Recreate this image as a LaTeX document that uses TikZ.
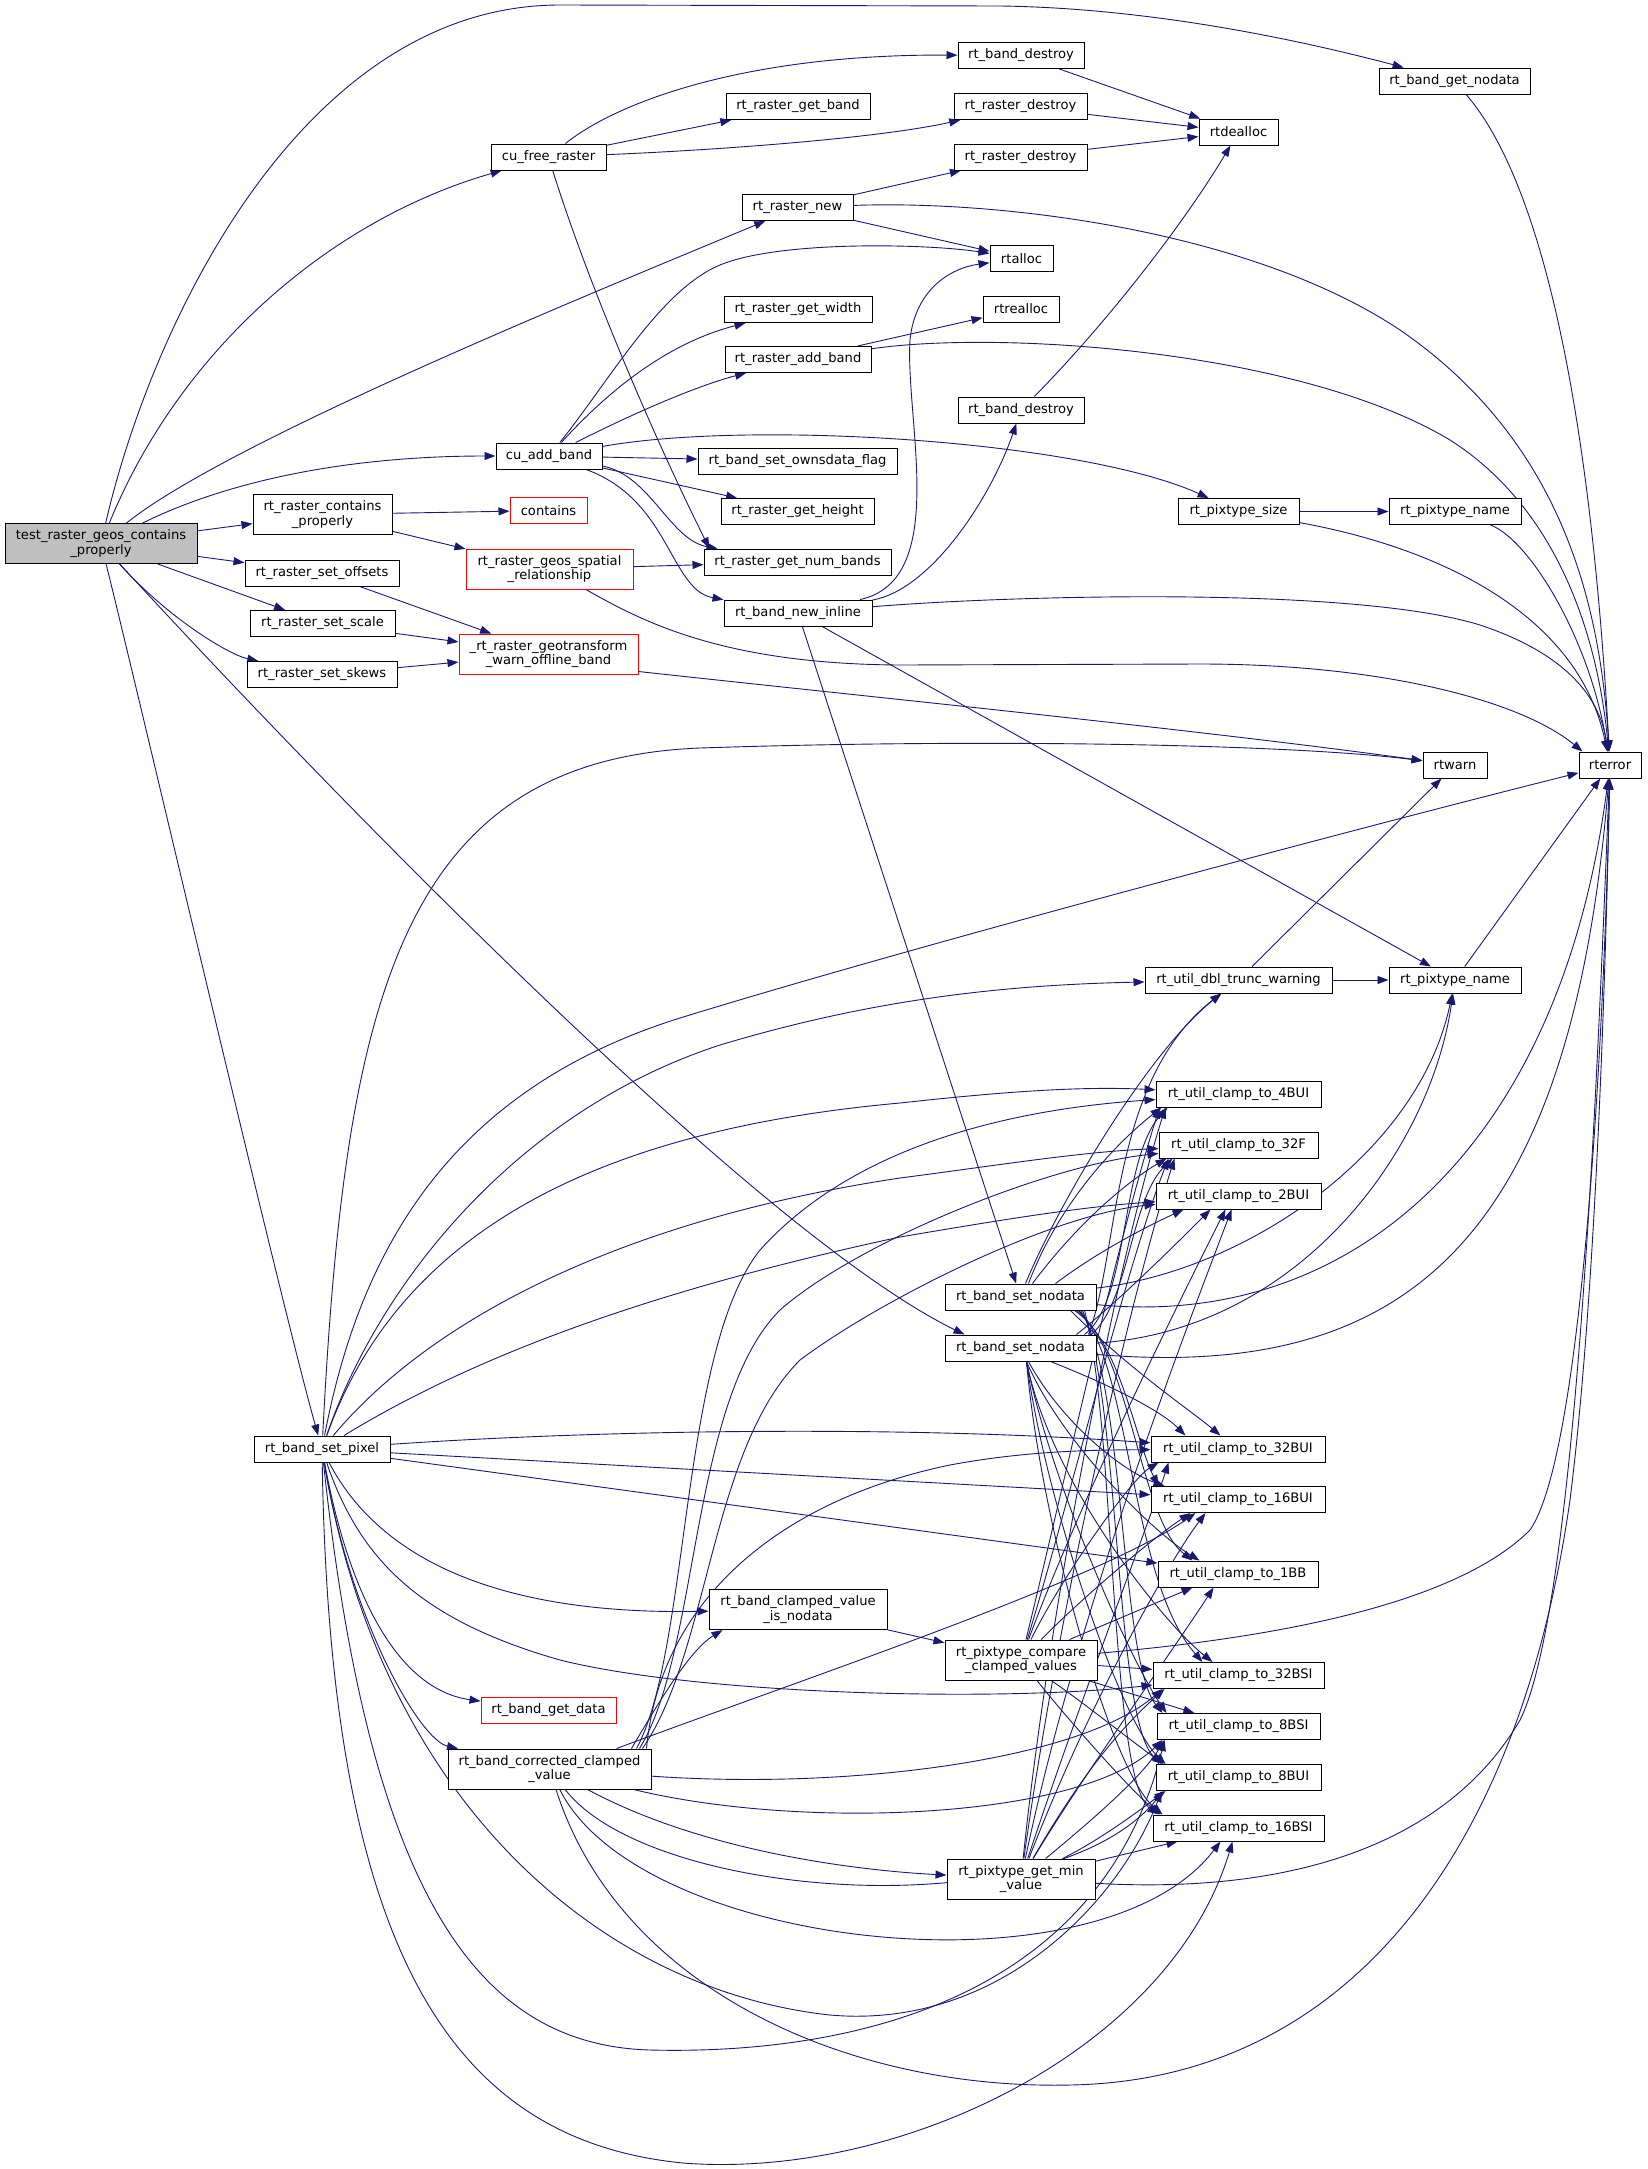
\documentclass[tikz,border=0pt]{standalone}
\usepackage{fontspec}
\setmainfont{DejaVu Sans}
\usetikzlibrary{arrows.meta}
\definecolor{edgec}{RGB}{25,25,112}
\definecolor{rootfill}{RGB}{191,191,191}
\newcommand\nodefont{\fontsize{13.1}{14.5}\selectfont}
\pgfdeclarelayer{edges}
\pgfsetlayers{edges,main}
\tikzset{
  box/.style={draw=black, fill=white, line width=1pt, inner sep=0pt, align=center, font=\nodefont, minimum height=26},
  redbox/.style={box, draw=red},
  rootbox/.style={box, fill=rootfill},
  two/.style={minimum height=40},
  e/.style={draw=edgec, line width=0.9pt, -{Triangle[length=11pt,width=8pt]}},
}
\begin{document}
\begin{tikzpicture}[x=1pt,y=-1pt]
\useasboundingbox (0,0) rectangle (1647,2169);
% ---------- nodes ----------
\node[rootbox, two, minimum width=192] (T) at (101,543.5) {test\_raster\_geos\_contains\\\_properly};
\node[box, minimum width=115] (CF) at (548.5,157) {cu\_free\_raster};
\node[box, minimum width=106] (CA) at (549,456) {cu\_add\_band};
\node[box, two, minimum width=139] (RCP) at (322.5,514.5) {rt\_raster\_contains\\\_properly};
\node[redbox, minimum width=77] (CONT) at (548.5,510.5) {contains};
\node[redbox, two, minimum width=167] (GSR) at (549.5,569) {rt\_raster\_geos\_spatial\\\_relationship};
\node[box, minimum width=154] (RSO) at (322,573) {rt\_raster\_set\_offsets};
\node[box, minimum width=145] (RSS) at (322.5,623.5) {rt\_raster\_set\_scale};
\node[box, minimum width=150] (RSK) at (322,674.5) {rt\_raster\_set\_skews};
\node[redbox, two, minimum width=179] (GEO) at (548.5,654) {\_rt\_raster\_geotransform\\\_warn\_offline\_band};
\node[box, minimum width=144] (RGB) at (798,106.5) {rt\_raster\_get\_band};
\node[box, minimum width=111] (RN) at (797.5,207.5) {rt\_raster\_new};
\node[box, minimum width=148] (RGW) at (798,309.5) {rt\_raster\_get\_width};
\node[box, minimum width=146] (RAB) at (798,359.5) {rt\_raster\_add\_band};
\node[box, minimum width=199] (OWN) at (797.5,461) {rt\_band\_set\_ownsdata\_flag};
\node[box, minimum width=153] (RGH) at (797.5,511.5) {rt\_raster\_get\_height};
\node[box, minimum width=187] (NUMB) at (797.5,562) {rt\_raster\_get\_num\_bands};
\node[box, minimum width=148] (BNI) at (798,613) {rt\_band\_new\_inline};
\node[box, minimum width=126] (BD1) at (1021,55.5) {rt\_band\_destroy};
\node[box, minimum width=133] (RD1) at (1020.5,106.5) {rt\_raster\_destroy};
\node[box, minimum width=133] (RD2) at (1020.5,157) {rt\_raster\_destroy};
\node[box, minimum width=63] (ALLOC) at (1021.5,258.5) {rtalloc};
\node[box, minimum width=76] (REALLOC) at (1021,309) {rtrealloc};
\node[box, minimum width=126] (BD2) at (1021,410) {rt\_band\_destroy};
\node[box, minimum width=79] (DEALLOC) at (1238.5,132) {rtdealloc};
\node[box, minimum width=121] (PSIZE) at (1238.5,511.5) {rt\_pixtype\_size};
\node[box, minimum width=151] (GNODATA) at (1454.5,81) {rt\_band\_get\_nodata};
\node[box, minimum width=132] (PNAME1) at (1455,511.5) {rt\_pixtype\_name};
\node[box, minimum width=64] (RTWARN) at (1455,765) {rtwarn};
\node[box, minimum width=62] (RTERROR) at (1610,765) {rterror};
\node[box, minimum width=187] (DTW) at (1238.5,980) {rt\_util\_dbl\_trunc\_warning};
\node[box, minimum width=132] (PNAME2) at (1455,980) {rt\_pixtype\_name};
\node[box, minimum width=165] (c4) at (1238.5,1094) {rt\_util\_clamp\_to\_4BUI};
\node[box, minimum width=159] (c32f) at (1238.5,1145) {rt\_util\_clamp\_to\_32F};
\node[box, minimum width=165] (c2) at (1238.5,1196) {rt\_util\_clamp\_to\_2BUI};
\node[box, minimum width=151] (SN1) at (1020.5,1297) {rt\_band\_set\_nodata};
\node[box, minimum width=151] (SN2) at (1020.5,1348) {rt\_band\_set\_nodata};
\node[box, minimum width=174] (c32u) at (1238,1449) {rt\_util\_clamp\_to\_32BUI};
\node[box, minimum width=174] (c16u) at (1238,1499.5) {rt\_util\_clamp\_to\_16BUI};
\node[box, minimum width=160] (c1) at (1238,1574) {rt\_util\_clamp\_to\_1BB};
\node[box, minimum width=171] (c32s) at (1238.5,1675.5) {rt\_util\_clamp\_to\_32BSI};
\node[box, minimum width=163] (c8s) at (1238.5,1726.5) {rt\_util\_clamp\_to\_8BSI};
\node[box, minimum width=165] (c8u) at (1238.5,1777.5) {rt\_util\_clamp\_to\_8BUI};
\node[box, minimum width=171] (c16s) at (1238.5,1828) {rt\_util\_clamp\_to\_16BSI};
\node[box, minimum width=136] (BSP) at (322,1449) {rt\_band\_set\_pixel};
\node[box, two, minimum width=178] (ISND) at (798,1609.5) {rt\_band\_clamped\_value\\\_is\_nodata};
\node[box, two, minimum width=152] (PCC) at (1021,1660) {rt\_pixtype\_compare\\\_clamped\_values};
\node[redbox, minimum width=135] (GETDATA) at (548.5,1710.5) {rt\_band\_get\_data};
\node[box, two, minimum width=203] (CCV) at (549.5,1769) {rt\_band\_corrected\_clamped\\\_value};
\node[box, two, minimum width=148] (PGM) at (1021,1879) {rt\_pixtype\_get\_min\\\_value};
% ---------- edges ----------
\begin{pgfonlayer}{edges}
% test_raster_geos_contains_properly
\draw[e] (T) .. controls (150,330) and (300,5) .. (560,5) -- (1000,6) .. controls (1150,8) and (1300,40) .. (GNODATA);
\draw[e] (T) .. controls (180,350) and (330,220) .. (CF);
\draw[e] (T) .. controls (230,440) and (600,290) .. (RN);
\draw[e] (T) .. controls (230,480) and (350,456) .. (CA);
\draw[e] (T) -- (RCP);
\draw[e] (T) -- (RSO);
\draw[e] (T) -- (RSS);
\draw[e] (T) .. controls (170,620) and (230,655) .. (RSK);
\draw[e] (T) .. controls (300,760) and (750,1230) .. ([xshift=20]SN2.north west);
\draw[e] (T) .. controls (140,700) and (280,1300) .. (BSP);
% cu_free_raster
\draw[e] (CF) .. controls (620,100) and (750,54) .. (BD1);
\draw[e] (CF) -- (RGB);
\draw[e] (CF) .. controls (720,150) and (880,138) .. (RD1);
\draw[e] (CF) .. controls (590,290) and (660,450) .. ([xshift=6]NUMB.north west);
% rt_raster_new
\draw[e] (RN) -- (RD2);
\draw[e] (RN) -- (ALLOC);
\draw[e] (RN) .. controls (1000,200) and (1250,230) .. (1400,330) .. controls (1560,440) and (1600,600) .. (RTERROR);
% cu_add_band
\draw[e] (CA) .. controls (610,380) and (660,290) .. (720,265) .. controls (780,240) and (930,244) .. (ALLOC);
\draw[e] (CA) .. controls (600,400) and (660,345) .. (RGW);
\draw[e] (CA) .. controls (640,410) and (700,385) .. (RAB);
\draw[e] (CA) .. controls (750,420) and (1080,440) .. (PSIZE);
\draw[e] (CA) -- (OWN);
\draw[e] (CA) -- (RGH);
\draw[e] (CA) .. controls (650,475) and (670,540) .. ([xshift=14]NUMB.north west);
\draw[e] (CA) .. controls (670,500) and (670,590) .. (BNI);
% rt_raster_add_band
\draw[e] (RAB) -- (REALLOC);
\draw[e] (RAB) .. controls (1000,330) and (1300,350) .. (1450,440) .. controls (1560,510) and (1598,640) .. (RTERROR);
% rt_band_new_inline
\draw[e] (BNI) .. controls (950,580) and (905,420) .. (910,340) .. controls (915,290) and (950,268) .. (ALLOC);
\draw[e] (BNI) .. controls (930,590) and (990,500) .. (BD2);
\draw[e] (BNI) .. controls (1000,596) and (1350,585) .. (1480,625) .. controls (1570,655) and (1600,700) .. (RTERROR);
\draw[e] (BNI) -- (PNAME2);
\draw[e] (BNI) -- (SN1);
% dealloc
\draw[e] (BD1) -- (DEALLOC);
\draw[e] (RD1) -- (DEALLOC);
\draw[e] (RD2) -- (DEALLOC);
\draw[e] (BD2) .. controls (1100,330) and (1180,230) .. (DEALLOC);
% right column
\draw[e] (GNODATA) .. controls (1540,180) and (1590,400) .. (RTERROR);
\draw[e] (PSIZE) -- (PNAME1);
\draw[e] (PSIZE) .. controls (1450,550) and (1580,620) .. (RTERROR);
\draw[e] (PNAME1) .. controls (1530,540) and (1590,640) .. (RTERROR);
% contains / geos
\draw[e] (RCP) -- (CONT);
\draw[e] (RCP) -- (GSR);
\draw[e] (GSR) -- (NUMB);
\draw[e] (GSR) .. controls (640,620) and (720,664) .. (900,665) -- (1200,664) .. controls (1380,664) and (1520,700) .. ([xshift=4]RTERROR.north west);
\draw[e] (RSO) -- (GEO);
\draw[e] (RSS) -- (GEO);
\draw[e] (RSK) -- (GEO);
\draw[e] ([yshift=3]GEO.south east) .. controls (900,700) and (1200,730) .. (RTWARN);
% dbl trunc / pixtype name
\draw[e] (DTW) -- (RTWARN);
\draw[e] (DTW) -- (PNAME2);
\draw[e] (PNAME2) -- (RTERROR);
% rt_band_set_pixel
\draw[e] (BSP) .. controls (345,1000) and (400,760) .. (700,748) .. controls (1000,738) and (1300,745) .. (RTWARN);
\draw[e] (BSP) .. controls (360,1250) and (450,1090) .. (680,1018) .. controls (900,950) and (1350,830) .. (RTERROR);
\draw[e] (BSP) .. controls (380,1280) and (520,1110) .. (720,1045) .. controls (870,1000) and (1000,985) .. (DTW);
\draw[e] (BSP) .. controls (400,1230) and (600,1130) .. (900,1103) .. controls (1000,1092) and (1080,1086) .. (c4);
\draw[e] (BSP) .. controls (430,1320) and (620,1220) .. (900,1178) .. controls (1000,1165) and (1080,1152) .. (c32f);
\draw[e] (BSP) .. controls (500,1340) and (700,1280) .. (900,1237) .. controls (1000,1220) and (1080,1207) .. (c2);
\draw[e] (BSP) .. controls (600,1430) and (900,1425) .. (c32u);
\draw[e] (BSP) -- (c16u);
\draw[e] (BSP) -- (c1);
\draw[e] (BSP) .. controls (360,1560) and (420,1620) .. (560,1660) .. controls (700,1695) and (1000,1702) .. (c32s);
\draw[e] (BSP) .. controls (380,1560) and (500,1615) .. (ISND);
\draw[e] (BSP) .. controls (350,1600) and (400,1690) .. (GETDATA);
\draw[e] (BSP) .. controls (350,1620) and (420,1740) .. (CCV);
\draw[e] (BSP) .. controls (380,1800) and (600,1990) .. (830,2015) .. controls (1000,2030) and (1120,1900) .. ([xshift=6]c8u.south west);
\draw[e] (BSP) .. controls (370,1900) and (480,2045) .. (650,2050) .. controls (850,2055) and (1100,2000) .. ([xshift=8]c8s.south west);
\draw[e] (BSP) .. controls (330,1950) and (450,2140) .. (683,2163) .. controls (900,2180) and (1170,2050) .. ([xshift=80]c16s.south west);
% rt_band_corrected_clamped_value
\draw[e] ([xshift=-20]CCV.north east) .. controls (660,1700) and (690,1650) .. ([xshift=14]ISND.south west);
\draw[e] (CCV) .. controls (700,1850) and (850,1870) .. (PGM);
\draw[e] (CCV) .. controls (850,1790) and (1080,1760) .. ([xshift=10]c32s.south west);
\draw[e] (CCV) .. controls (800,1830) and (1080,1820) .. ([xshift=6]c8s.south west);
\draw[e] (CCV) .. controls (650,1900) and (1050,1930) .. ([xshift=8]c8u.south west);
\draw[e] (CCV) .. controls (640,1950) and (1100,2000) .. ([xshift=68]c16s.south west);
\draw[e] (CCV) .. controls (620,1990) and (850,2090) .. (1070,2085) .. controls (1350,2080) and (1520,1850) .. (1570,1500) .. controls (1595,1300) and (1605,1000) .. (RTERROR);
\draw[e] ([xshift=-5]CCV.north east) .. controls (660,1600) and (780,1500) .. (950,1465) .. controls (1030,1450) and (1100,1450) .. (c32u);
\draw[e] ([xshift=-35]CCV.north east) .. controls (800,1680) and (1100,1580) .. ([xshift=45]c16u.south west);
\draw[e] ([xshift=-15]CCV.north east) .. controls (690,1650) and (680,1350) .. (760,1250) .. controls (850,1150) and (1000,1110) .. (c4);
\draw[e] ([xshift=-12]CCV.north east) .. controls (700,1650) and (690,1400) .. (780,1310) .. controls (860,1240) and (1050,1165) .. (c32f);
\draw[e] ([xshift=-9]CCV.north east) .. controls (710,1650) and (710,1450) .. (800,1360) .. controls (880,1300) and (1050,1215) .. (c2);
% clamped_value_is_nodata
\draw[e] (ISND) -- (PCC);
% rt_band_set_nodata (1)
\draw[e] ([xshift=5]SN1.north) .. controls (1060,1200) and (1150,1050) .. (DTW);
\draw[e] ([xshift=8]SN1.north) .. controls (1060,1200) and (1120,1140) .. ([xshift=6]c4.south west);
\draw[e] ([xshift=12]SN1.north) .. controls (1080,1220) and (1130,1180) .. ([xshift=8]c32f.south west);
\draw[e] ([xshift=35]SN1.north) .. controls (1100,1250) and (1150,1225) .. ([xshift=28]c2.south west);
\draw[e] (SN1) .. controls (1250,1270) and (1420,1150) .. (PNAME2);
\draw[e] (SN1) .. controls (1350,1330) and (1560,1150) .. (RTERROR);
\draw[e] ([xshift=-26]SN1.south east) .. controls (1130,1370) and (1190,1410) .. ([xshift=70]c32u.north west);
\draw[e] ([xshift=-22]SN1.south east) .. controls (1120,1340) and (1135,1440) .. ([xshift=8]c16u.north west);
\draw[e] ([xshift=-20]SN1.south east) .. controls (1130,1350) and (1140,1520) .. ([xshift=35]c1.north west);
\draw[e] ([xshift=-18]SN1.south east) .. controls (1130,1360) and (1130,1580) .. ([xshift=50]c32s.north west);
\draw[e] ([xshift=-16]SN1.south east) .. controls (1125,1380) and (1120,1660) .. ([xshift=6]c8s.north west);
\draw[e] ([xshift=-14]SN1.south east) .. controls (1120,1400) and (1115,1720) .. ([xshift=6]c8u.north west);
\draw[e] ([xshift=-12]SN1.south east) .. controls (1115,1420) and (1110,1780) .. ([xshift=6]c16s.north west);
% rt_band_set_nodata (2)
\draw[e] ([xshift=-8]SN2.north east) .. controls (1120,1250) and (1110,1080) .. (DTW);
\draw[e] ([xshift=-12]SN2.north east) .. controls (1130,1300) and (1120,1160) .. ([xshift=12]c4.south west);
\draw[e] ([xshift=-5]SN2.north east) .. controls (1130,1300) and (1130,1200) .. ([xshift=14]c32f.south west);
\draw[e] ([xshift=-20]SN2.north east) .. controls (1120,1300) and (1180,1240) .. ([xshift=55]c2.south west);
\draw[e] (SN2) .. controls (1300,1330) and (1430,1150) .. (PNAME2);
\draw[e] (SN2) .. controls (1400,1380) and (1570,1250) .. (RTERROR);
\draw[e] ([xshift=30]SN2.south) .. controls (1110,1385) and (1160,1410) .. ([xshift=35]c32u.north west);
\draw[e] ([xshift=8]SN2.south) .. controls (1060,1420) and (1120,1470) .. ([xshift=14]c16u.north west);
\draw[e] ([xshift=6]SN2.south) .. controls (1060,1440) and (1150,1530) .. ([xshift=42]c1.north west);
\draw[e] ([xshift=6]SN2.south) .. controls (1050,1480) and (1160,1620) .. ([xshift=60]c32s.north west);
\draw[e] ([xshift=6]SN2.south) .. controls (1050,1480) and (1130,1660) .. ([xshift=10]c8s.north west);
\draw[e] ([xshift=6]SN2.south) .. controls (1045,1500) and (1120,1720) .. ([xshift=10]c8u.north west);
\draw[e] ([xshift=6]SN2.south) .. controls (1040,1520) and (1110,1770) .. ([xshift=10]c16s.north west);
% rt_pixtype_compare_clamped_values
\draw[e] (PCC) .. controls (1065,1480) and (1115,1250) .. ([xshift=4]c4.south west);
\draw[e] (PCC) .. controls (1070,1500) and (1125,1270) .. ([xshift=10]c32f.south west);
\draw[e] (PCC) .. controls (1080,1500) and (1180,1300) .. ([xshift=70]c2.south west);
\draw[e] (PCC) .. controls (1060,1580) and (1130,1480) .. ([xshift=8]c32u.south west);
\draw[e] (PCC) .. controls (1080,1600) and (1150,1540) .. ([xshift=40]c16u.south west);
\draw[e] (PCC) -- ([xshift=35]c1.south west);
\draw[e] (PCC) -- (c32s);
\draw[e] (PCC) -- (c8s);
\draw[e] (PCC) .. controls (1080,1700) and (1130,1740) .. ([xshift=8]c8u.north west);
\draw[e] (PCC) .. controls (1060,1710) and (1130,1790) .. ([xshift=8]c16s.north west);
\draw[e] (PCC) .. controls (1250,1640) and (1450,1610) .. (1530,1530) .. controls (1585,1450) and (1605,1000) .. (RTERROR);
% rt_pixtype_get_min_value
\draw[e] (PGM) .. controls (1050,1600) and (1120,1250) .. ([xshift=10]c4.south west);
\draw[e] (PGM) .. controls (1060,1600) and (1130,1300) .. ([xshift=16]c32f.south west);
\draw[e] (PGM) .. controls (1080,1600) and (1190,1320) .. ([xshift=76]c2.south west);
\draw[e] (PGM) .. controls (1080,1700) and (1150,1520) .. ([xshift=18]c32u.south west);
\draw[e] (PGM) .. controls (1090,1700) and (1170,1560) .. ([xshift=55]c16u.south west);
\draw[e] (PGM) .. controls (1080,1780) and (1180,1640) .. ([xshift=56]c1.south west);
\draw[e] (PGM) .. controls (1090,1760) and (1130,1720) .. ([xshift=12]c32s.south west);
\draw[e] (PGM) .. controls (1080,1830) and (1140,1780) .. ([xshift=8]c8s.south west);
\draw[e] (PGM) .. controls (1100,1840) and (1140,1810) .. ([xshift=10]c8u.south west);
\draw[e] (PGM) -- ([xshift=25]c16s.south west);
\draw[e] (PGM) .. controls (1300,1895) and (1450,1840) .. (1520,1720) .. controls (1580,1600) and (1600,1000) .. (RTERROR);
\end{pgfonlayer}
\end{tikzpicture}
\end{document}
